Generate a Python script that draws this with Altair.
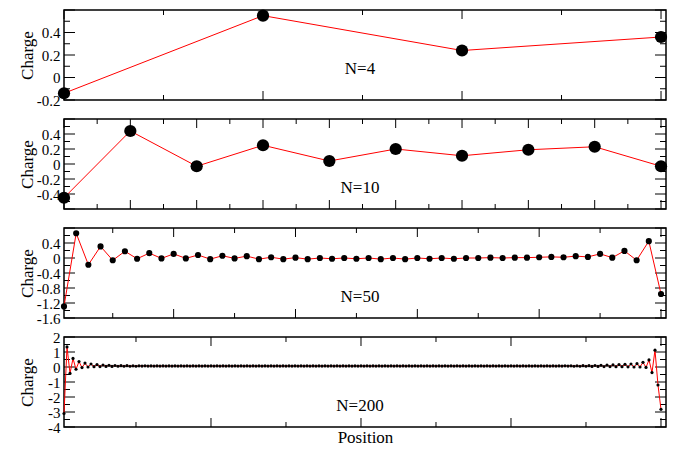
import altair as alt
import pandas as pd

# ---------------- data ----------------
q4 = [-0.14, 0.55, 0.24, 0.36]

q10 = [-0.45, 0.44, -0.03, 0.25, 0.04, 0.20, 0.11, 0.19, 0.23, -0.03]

q50 = [-1.29, 0.66, -0.18, 0.31, -0.06, 0.18, -0.02, 0.13, -0.01, 0.11,
       -0.01, 0.08, -0.03, 0.06, -0.01, 0.05, -0.03, 0.02, -0.03, 0.01,
       -0.03, 0.00, -0.02, 0.00, -0.02, 0.00, -0.03, 0.00, -0.03, 0.00,
       -0.02, 0.00, -0.02, 0.00, 0.00, 0.01, 0.00, 0.01, 0.01, 0.02,
       0.03, 0.02, 0.05, 0.03, 0.11, 0.01, 0.19, -0.06, 0.45, -0.96]

q200 = [-3.10, 1.34, -0.43, 0.57, -0.15, 0.36, -0.04, 0.26, 0.00, 0.20,
        0.02, 0.16, 0.03, 0.13, 0.04, 0.11, 0.04, 0.10, 0.05, 0.09,
        0.05, 0.09, 0.05, 0.08, 0.05, 0.08, 0.06, 0.08, 0.06, 0.07,
        0.06, 0.07, 0.06, 0.07, 0.06, 0.07, 0.06, 0.07, 0.06, 0.07,
        0.06, 0.07, 0.06, 0.07, 0.06, 0.07, 0.06, 0.07, 0.06, 0.07,
        0.06, 0.07, 0.06, 0.07, 0.06, 0.07, 0.06, 0.07, 0.06, 0.07,
        0.06, 0.07, 0.06, 0.07, 0.06, 0.07, 0.06, 0.07, 0.06, 0.07,
        0.06, 0.07, 0.06, 0.07, 0.06, 0.07, 0.06, 0.07, 0.06, 0.07,
        0.06, 0.07, 0.06, 0.07, 0.06, 0.07, 0.06, 0.07, 0.06, 0.07,
        0.06, 0.07, 0.06, 0.07, 0.06, 0.07, 0.06, 0.07, 0.06, 0.07,
        0.06, 0.07, 0.06, 0.07, 0.06, 0.07, 0.06, 0.07, 0.06, 0.07,
        0.06, 0.07, 0.06, 0.07, 0.06, 0.07, 0.06, 0.07, 0.06, 0.07,
        0.06, 0.07, 0.06, 0.07, 0.06, 0.07, 0.06, 0.07, 0.06, 0.07,
        0.06, 0.07, 0.06, 0.07, 0.06, 0.07, 0.06, 0.07, 0.06, 0.07,
        0.06, 0.07, 0.06, 0.07, 0.06, 0.07, 0.06, 0.07, 0.06, 0.07,
        0.06, 0.07, 0.06, 0.07, 0.06, 0.07, 0.06, 0.07, 0.06, 0.07,
        0.06, 0.07, 0.06, 0.07, 0.06, 0.07, 0.06, 0.08, 0.06, 0.08,
        0.05, 0.08, 0.05, 0.09, 0.05, 0.09, 0.04, 0.10, 0.04, 0.11,
        0.03, 0.12, 0.03, 0.14, 0.02, 0.16, 0.02, 0.18, 0.01, 0.20,
        0.00, 0.22, 0.00, 0.31, -0.03, 0.47, -0.37, 1.12, -1.20, -2.82]

labels = ["N=4", "N=10", "N=50", "N=200"]

x_domains = [[1, 4.025], [1, 10.075], [1, 50.41], [1, 201.67]]
y_domains = [[-0.2, 0.6], [-0.6, 0.6], [-1.6, 0.8], [-4, 2]]

y_labels = [[-0.2, 0, 0.2, 0.4],
            [-0.4, -0.2, 0, 0.2, 0.4],
            [-1.6, -1.2, -0.8, -0.4, 0, 0.4],
            [-4, -3, -2, -1, 0, 1, 2]]
y_major = [[-0.2, 0, 0.2, 0.4, 0.6],
           [-0.6, -0.4, -0.2, 0, 0.2, 0.4, 0.6],
           [-1.6, -1.2, -0.8, -0.4, 0, 0.4, 0.8],
           [-4, -3, -2, -1, 0, 1, 2]]
y_minor = [[-0.1, 0.1, 0.3, 0.5],
           [-0.5, -0.3, -0.1, 0.1, 0.3, 0.5],
           [-1.4, -1.0, -0.6, -0.2, 0.2, 0.6],
           [-3.5, -2.5, -1.5, -0.5, 0.5, 1.5]]
x_major = [[1, 2, 3, 4],
           [1, 2, 3, 4, 5, 6, 7, 8, 9, 10],
           [10, 20, 30, 40, 50],
           [50, 100, 150, 200]]
x_minor = [[1.5, 2.5, 3.5],
           [1.5, 2.5, 3.5, 4.5, 5.5, 6.5, 7.5, 8.5, 9.5],
           [5, 15, 25, 35, 45],
           [25, 75, 125, 175]]

series = [q4, q10, q50, q200]
point_sizes = [150, 150, 38, 10]

W, H = 602, 90
FONT = "'Liberation Serif', 'Times New Roman', 'DejaVu Serif', serif"


def panel(i):
    vals = series[i]
    df = pd.DataFrame({"pos": list(range(1, len(vals) + 1)), "charge": vals})
    xs = alt.Scale(domain=x_domains[i], zero=False, nice=False)
    ys = alt.Scale(domain=y_domains[i], zero=False, nice=False)

    if i == 3:
        xaxis = alt.Axis(title="Position", labels=False, ticks=False, domain=False,
                         grid=False, titleFont=FONT, titleFontSize=17,
                         titleFontWeight="normal", titlePadding=2, titleColor="#000")
    else:
        xaxis = None
    yaxis = alt.Axis(title="Charge", values=y_labels[i], labelExpr="toString(datum.value)",
                     ticks=False, domain=False, grid=False, labelFont=FONT,
                     labelFontSize=15, labelColor="#000", labelPadding=4,
                     minExtent=23, maxExtent=23, titleFont=FONT, titleFontSize=17,
                     titleFontWeight="normal", titleColor="#000", titlePadding=5,
                     labelOverlap=False)

    def X(field):
        return alt.X(field, scale=xs, axis=xaxis)

    def Y(field):
        return alt.Y(field, scale=ys, axis=yaxis)

    base = alt.Chart(df)
    line = base.mark_line(color="#ff0000", strokeWidth=1).encode(
        x=X("pos:Q"), y=Y("charge:Q"))
    pts = base.mark_circle(color="#000", opacity=1, size=point_sizes[i]).encode(
        x=X("pos:Q"), y=Y("charge:Q"))

    def yticks(values, length):
        d = pd.DataFrame({"v": values})
        left = alt.Chart(d).mark_rule(color="#000", strokeWidth=1).encode(
            y=Y("v:Q"), x=alt.value(0), x2=alt.value(length))
        right = alt.Chart(d).mark_rule(color="#000", strokeWidth=1).encode(
            y=Y("v:Q"), x=alt.value(W - length), x2=alt.value(W))
        return [left, right]

    def xticks(values, length):
        d = pd.DataFrame({"v": values})
        bottom = alt.Chart(d).mark_rule(color="#000", strokeWidth=1).encode(
            x=X("v:Q"), y=alt.value(H - length), y2=alt.value(H))
        top = alt.Chart(d).mark_rule(color="#000", strokeWidth=1).encode(
            x=X("v:Q"), y=alt.value(0), y2=alt.value(length))
        return [bottom, top]

    layers = [line, pts]
    layers = (yticks(y_major[i], 11) + yticks(y_minor[i], 6)
              + xticks(x_major[i], 9) + xticks(x_minor[i], 5)) + layers

    txt = alt.Chart(pd.DataFrame({"t": [labels[i]]})).mark_text(
        font=FONT, fontSize=17, color="#000", align="center", baseline="middle"
    ).encode(text="t:N", x=alt.value(296), y=alt.value(H - 21 if i > 0 else H - 31))
    layers.append(txt)

    return alt.layer(*layers).properties(width=W, height=H)


chart = alt.vconcat(*[panel(i) for i in range(4)], spacing=19, bounds="flush").properties(
    padding={"left": 9, "top": 0, "right": 5, "bottom": 5},
    background="white",
).configure_view(stroke="#000", strokeWidth=1.5).configure_axis(
    labelFont=FONT, titleFont=FONT
).configure_text(font=FONT)

chart.save("out.html", embed_options={"renderer": "svg", "actions": False})
